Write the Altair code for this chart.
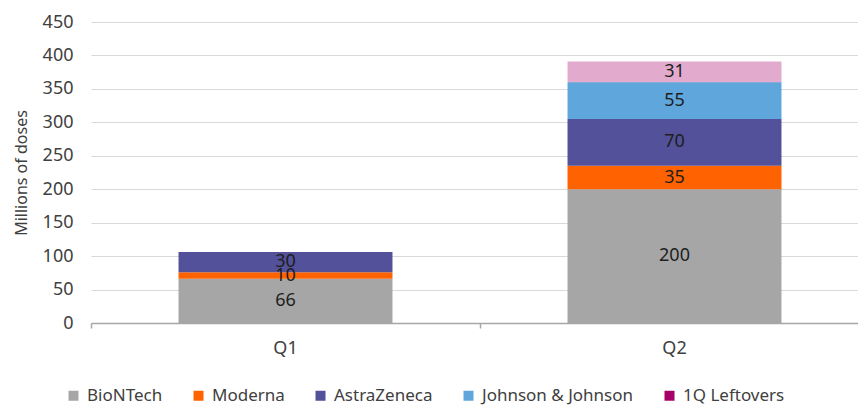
import altair as alt
import pandas as pd

quarters = ["Q1", "Q2"]
companies = ["BioNTech", "Moderna", "AstraZeneca", "Johnson & Johnson", "1Q Leftovers"]
colors = ["#a6a6a6", "#ff6200", "#525199", "#5fa6dc", "#a8006a"]
q1_values = [66, 10, 30, 0, 0]
q2_values = [200, 35, 70, 55, 31]
y_ticks = [0, 50, 100, 150, 200, 250, 300, 350, 400, 450]

rows = []
for q, vals in zip(quarters, [q1_values, q2_values]):
    for i, (c, v) in enumerate(zip(companies, vals)):
        if v > 0:
            rows.append({"quarter": q, "company": c, "value": v, "order": i})
df = pd.DataFrame(rows)

FONT = "Noto Sans"
TXT = "#404040"

base = alt.Chart(df).transform_stack(
    stack="value", groupby=["quarter"], as_=["y0", "y1"],
    sort=[alt.SortField("order", order="ascending")]
).transform_calculate(mid="(datum.y0 + datum.y1) / 2")

x_scale = alt.Scale(domain=quarters, paddingInner=0, paddingOuter=0, range=[0, 778])
y_scale = alt.Scale(domain=[0, 450], nice=False)
x_axis = alt.Axis(labelAngle=0, labelFontSize=18, labelColor=TXT, labelFont=FONT,
                  domainColor="#a6a6a6", domainWidth=1.5, tickColor="#a6a6a6",
                  tickWidth=1.5, tickSize=5, bandPosition=0, labelPadding=11, grid=False)
y_axis = alt.Axis(values=y_ticks, labelFontSize=18, labelColor=TXT, labelOverlap=False,
                  labelFont=FONT, titleFont=FONT, titleFontSize=16, titleColor=TXT,
                  titleFontWeight="normal", domain=False, ticks=False, labelPadding=18,
                  titlePadding=13, gridColor="#d9d9d9", gridWidth=1)

bars = base.mark_bar(width={"band": 0.55}).encode(
    x=alt.X("quarter:N", title=None, sort=quarters, scale=x_scale, axis=x_axis),
    y=alt.Y("y0:Q", title="Millions of doses", scale=y_scale, axis=y_axis),
    y2="y1:Q",
    color=alt.Color("company:N", scale=alt.Scale(domain=companies, range=colors),
                    legend=alt.Legend(title=None, orient="none", direction="horizontal",
                                      legendX=-26, legendY=365, symbolType="square",
                                      symbolSize=100, symbolStrokeWidth=0, labelFontSize=17,
                                      labelFont=FONT, labelColor=TXT, columnPadding=27,
                                      labelOffset=5)),
    opacity=alt.condition(alt.datum.company == "1Q Leftovers", alt.value(0.33), alt.value(1)),
    order=alt.Order("order:Q"),
)

labels = base.mark_text(fontSize=18, font=FONT, color="#1e1e1e", baseline="middle").encode(
    x=alt.X("quarter:N", title=None, sort=quarters, scale=x_scale, axis=x_axis),
    y=alt.Y("mid:Q", title="Millions of doses", scale=y_scale, axis=y_axis),
    text=alt.Text("value:Q"),
)

chart = alt.layer(bars, labels).properties(
    width=767, height=301, background="white",
    padding={"left": 91, "top": 22, "right": 0, "bottom": 83},
    autosize=alt.AutoSizeParams(type="none"),
).configure_view(stroke=None)

chart.save("out.html", embed_options={"renderer": "svg", "actions": False})
